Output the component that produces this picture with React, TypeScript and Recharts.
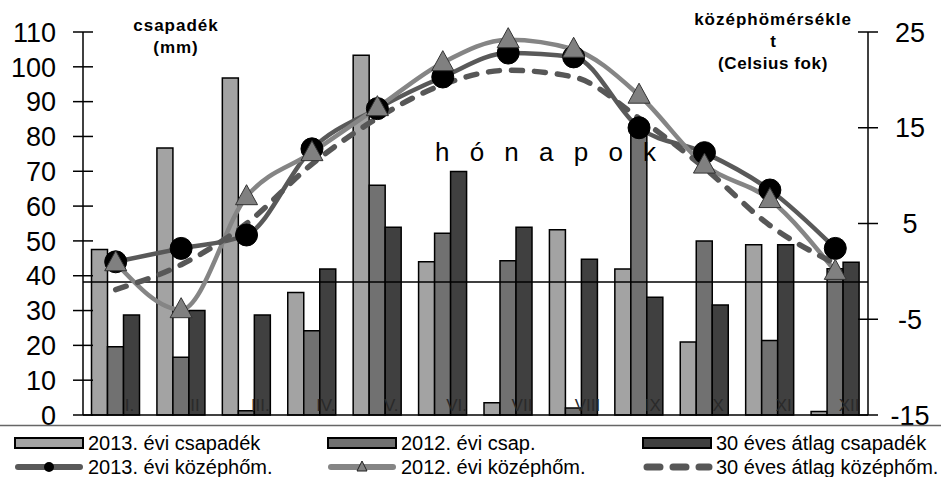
import React from 'react';
import { ComposedChart, Bar, Line, XAxis, YAxis, ReferenceLine, LabelList } from 'recharts';

const months = ['I.', 'II', 'III.', 'IV.', 'V.', 'VI.', 'VII', 'VIII', 'IX', 'X', 'XI', 'XII'];
const precip2013 = [47.5, 76.7, 96.8, 35.2, 103.3, 44, 3.5, 53.2, 41.9, 21, 48.9, 1];
const precip2012 = [19.6, 16.6, 1.2, 24.2, 66, 52.2, 44.3, 2, 82, 50, 21.4, 42];
const precipAvg = [28.7, 30, 28.7, 41.9, 53.9, 69.9, 53.9, 44.7, 33.8, 31.6, 48.9, 43.9];
const temp2013 = [1.0, 2.4, 3.8, 12.8, 17.0, 20.3, 22.8, 22.4, 15.0, 12.4, 8.5, 2.4];
const temp2012 = [0.9, -4.0, 7.8, 12.4, 17.1, 21.8, 24.2, 23.2, 18.4, 11.1, 7.5, 0.0];
const tempAvg = [-1.9, 0.7, 5.0, 11.2, 16.0, 19.5, 21.0, 20.3, 16.0, 10.8, 4.8, 0.8];
const precipTicks = [0, 10, 20, 30, 40, 50, 60, 70, 80, 90, 100, 110];
const tempTicks = [-15, -5, 5, 15, 25];
const refValue = 38.2;

const seriesNames = [
  '2013. évi csapadék',
  '2012. évi csap.',
  '30 éves átlag csapadék',
  '2013. évi középhőm.',
  '2012. évi középhőm.',
  '30 éves átlag középhőm.',
];

const data = months.map((m, i) => ({
  month: m,
  p13: precip2013[i],
  p12: precip2012[i],
  pAvg: precipAvg[i],
  t13: temp2013[i],
  t12: temp2012[i],
  tAvg: tempAvg[i],
}));

const FONT = '"Liberation Sans", Arial, sans-serif';
const C_LIGHT = '#a3a3a3';
const C_MID = '#717171';
const C_DARK = '#404040';
const C_LINE13 = '#595959';
const C_LINE12 = '#858585';
const C_AVG = '#575757';

const LeftTick = (props: any) => {
  const { x, y, payload } = props;
  return (
    <g>
      <line x1={x - 10} x2={x + 10} y1={y} y2={y} stroke="#000" strokeWidth={1.5} />
      <text x={x - 27} y={y} dy="0.36em" textAnchor="end" fontFamily={FONT} fontSize={27} fill="#000">
        {payload.value}
      </text>
    </g>
  );
};

const RightTick = (props: any) => {
  const { x, y, payload } = props;
  return (
    <g>
      <line x1={x - 10} x2={x + 10} y1={y} y2={y} stroke="#000" strokeWidth={1.5} />
      <text x={x + 42} y={y} dy="0.36em" textAnchor="middle" fontFamily={FONT} fontSize={27} fill="#000">
        {payload.value}
      </text>
    </g>
  );
};

const MonthLabel = (props: any) => {
  const { x, y, width, height, value } = props;
  const bottom = Number(y) + Number(height);
  return (
    <text x={Number(x) + Number(width) / 2 - 2} y={bottom - 4} textAnchor="middle" fontFamily={FONT} fontSize={17} fill="#2a2a2a">
      {value}
    </text>
  );
};

const Triangle = (props: any) => {
  const { cx, cy } = props;
  if (cx == null || cy == null) return null;
  return (
    <polygon
      points={`${cx},${cy - 12} ${cx - 11},${cy + 8} ${cx + 11},${cy + 8}`}
      fill="#808080"
      stroke="#333"
      strokeWidth={1}
    />
  );
};

const LegendOverlay = () => {
  const cols = [15, 328, 643];
  const rows = [443, 467];
  const w = 68;
  const items = seriesNames.map((name, i) => {
    const col = cols[i % 3];
    const row = rows[Math.floor(i / 3)];
    let icon: React.ReactNode = null;
    if (i < 3) {
      const fill = [C_LIGHT, C_MID, C_DARK][i];
      icon = <rect x={col} y={row - 5} width={w} height={10} fill={fill} stroke="#000" strokeWidth={2} />;
    } else if (i === 3) {
      icon = (
        <g>
          <line x1={col + 3} x2={col + w - 3} y1={row} y2={row} stroke={C_LINE13} strokeWidth={6} strokeLinecap="round" />
          <circle cx={col + w / 2} cy={row} r={5} fill="#000" />
        </g>
      );
    } else if (i === 4) {
      const cx = col + w / 2;
      icon = (
        <g>
          <line x1={col + 3} x2={col + w - 3} y1={row} y2={row} stroke={C_LINE12} strokeWidth={6} strokeLinecap="round" />
          <polygon points={`${cx},${row - 6} ${cx - 5},${row + 4} ${cx + 5},${row + 4}`} fill="#808080" stroke="#222" strokeWidth={1} />
        </g>
      );
    } else {
      icon = (
        <line x1={col + 4} x2={col + w - 2} y1={row} y2={row} stroke={C_AVG} strokeWidth={7} strokeLinecap="round" strokeDasharray="13 13" />
      );
    }
    return (
      <g key={name}>
        {icon}
        <text x={col + w + 5} y={row} dy="0.36em" fontFamily={FONT} fontSize={20} fill="#000">
          {name}
        </text>
      </g>
    );
  });
  return <g>{items}</g>;
};

export default function App() {
  return (
    <div style={{ position: 'absolute', left: 0, top: 0, width: 941, height: 477, background: '#fff' }}>
      <ComposedChart
        width={941}
        height={477}
        data={data}
        margin={{ top: 32, right: 0, bottom: 0, left: 0 }}
        barCategoryGap="13%"
        barGap={0}
      >
        <YAxis
          yAxisId="p"
          orientation="left"
          width={83}
          domain={[0, 110]}
          ticks={precipTicks}
          interval={0}
          tickSize={0}
          tickMargin={0}
          tickLine={false}
          tick={<LeftTick />}
          axisLine={{ stroke: '#000', strokeWidth: 1.5 }}
        />
        <YAxis
          yAxisId="t"
          orientation="right"
          width={73}
          domain={[-15, 25]}
          ticks={tempTicks}
          interval={0}
          tickSize={0}
          tickMargin={0}
          tickLine={false}
          tick={<RightTick />}
          axisLine={{ stroke: '#000', strokeWidth: 1.5 }}
        />
        <XAxis
          dataKey="month"
          height={62}
          tickSize={0}
          tickLine={false}
          tick={false}
          axisLine={{ stroke: '#000', strokeWidth: 1.5 }}
        />
        <Bar yAxisId="p" dataKey="p13" fill={C_LIGHT} stroke="#000" strokeWidth={1.5} isAnimationActive={false} />
        <Bar yAxisId="p" dataKey="p12" fill={C_MID} stroke="#000" strokeWidth={1.5} isAnimationActive={false} />
        <Bar yAxisId="p" dataKey="pAvg" fill={C_DARK} stroke="#000" strokeWidth={1.5} isAnimationActive={false}>
          <LabelList dataKey="month" content={<MonthLabel />} />
        </Bar>
        <ReferenceLine yAxisId="p" y={refValue} stroke="#000" strokeWidth={1.5} />
        <Line
          yAxisId="t"
          dataKey="t13"
          type="monotone"
          stroke={C_LINE13}
          strokeWidth={4.5}
          dot={{ r: 11, fill: '#000', stroke: '#000', strokeWidth: 1 }}
          activeDot={false}
          isAnimationActive={false}
        />
        <Line
          yAxisId="t"
          dataKey="t12"
          type="monotone"
          stroke={C_LINE12}
          strokeWidth={4.5}
          dot={<Triangle />}
          activeDot={false}
          isAnimationActive={false}
        />
        <Line
          yAxisId="t"
          dataKey="tAvg"
          type="monotone"
          stroke={C_AVG}
          strokeWidth={5.5}
          strokeDasharray="11 12"
          strokeLinecap="round"
          dot={false}
          activeDot={false}
          isAnimationActive={false}
        />
      </ComposedChart>
      <svg width={941} height={477} style={{ position: 'absolute', left: 0, top: 0, pointerEvents: 'none' }}>
        <text x={176} y={25} dy="0.36em" textAnchor="middle" fontFamily={FONT} fontSize={17} fontWeight="bold" letterSpacing={1} fill="#000">
          csapadék
        </text>
        <text x={176} y={47} dy="0.36em" textAnchor="middle" fontFamily={FONT} fontSize={17} fontWeight="bold" letterSpacing={1} fill="#000">
          (mm)
        </text>
        <text x={773} y={19} dy="0.36em" textAnchor="middle" fontFamily={FONT} fontSize={17} fontWeight="bold" letterSpacing={1} fill="#000">
          középhömérsékle
        </text>
        <text x={773} y={41} dy="0.36em" textAnchor="middle" fontFamily={FONT} fontSize={17} fontWeight="bold" fill="#000">
          t
        </text>
        <text x={773} y={63} dy="0.36em" textAnchor="middle" fontFamily={FONT} fontSize={17} fontWeight="bold" letterSpacing={0.6} fill="#000">
          (Celsius fok)
        </text>
        <text x={435} y={152} dy="0.36em" fontFamily={FONT} fontSize={26} letterSpacing={6.5} fill="#000">
          h ó n a p o k
        </text>
        <line x1={0} x2={941} y1={425.5} y2={425.5} stroke="#666" strokeWidth={1.5} />
        <LegendOverlay />
      </svg>
    </div>
  );
}
